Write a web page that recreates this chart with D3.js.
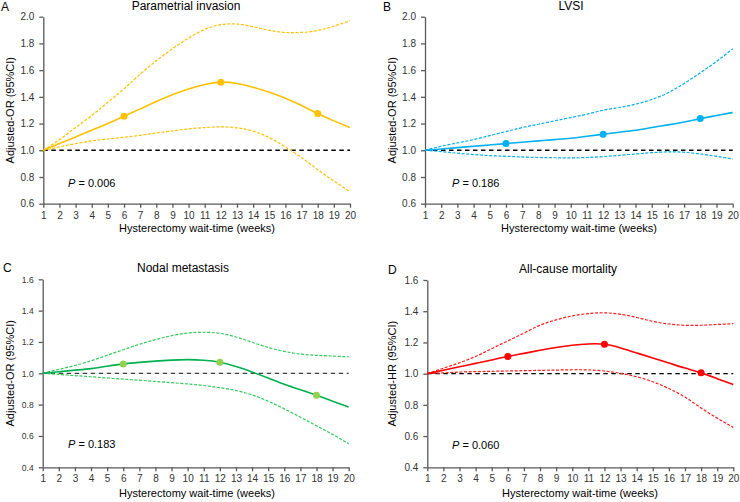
<!DOCTYPE html>
<html>
<head>
<meta charset="utf-8">
<script src="https://cdn.jsdelivr.net/npm/d3@7/dist/d3.min.js"></script>
<style>
  html, body { margin: 0; padding: 0; background: #fff; }
  svg { display: block; font-family: "Liberation Sans", Arial, sans-serif; }
</style>
</head>
<body>
<svg id="chart" width="740" height="502"></svg>
<script>
// ---------------- DATA ----------------
const weeks = [1,2,3,4,5,6,7,8,9,10,11,12,13,14,15,16,17,18,19,20];
const xTickLabels = weeks.map(String);
const markerWeeks = [6, 12, 18];

const panelLetters = ["A", "B", "C", "D"];
const panelTitles = ["Parametrial invasion", "LVSI", "Nodal metastasis", "All-cause mortality"];
const yAxisTitles = ["Adjusted-OR (95%CI)", "Adjusted-OR (95%CI)", "Adjusted-OR (95%CI)", "Adjusted-HR (95%CI)"];
const xAxisTitle = "Hysterectomy wait-time (weeks)";
const pValues = ["0.006", "0.186", "0.183", "0.060"];

const yTicksTop = [0.6, 0.8, 1.0, 1.2, 1.4, 1.6, 1.8, 2.0];
const yTicksBottom = [0.4, 0.6, 0.8, 1.0, 1.2, 1.4, 1.6];

// Panel A - Parametrial invasion
const aMain  = [1.00,1.05,1.10,1.15,1.20,1.255,1.31,1.365,1.415,1.458,1.492,1.51,1.50,1.472,1.435,1.39,1.335,1.275,1.22,1.17];
const aUpper = [1.00,1.08,1.17,1.26,1.36,1.46,1.57,1.67,1.76,1.84,1.905,1.94,1.945,1.925,1.898,1.882,1.882,1.897,1.93,1.97];
const aLower = [1.00,1.025,1.05,1.07,1.085,1.097,1.112,1.13,1.145,1.16,1.17,1.175,1.168,1.143,1.095,1.025,0.945,0.855,0.77,0.69];

// Panel B - LVSI
const bMain  = [1.00,1.01,1.02,1.03,1.04,1.05,1.06,1.07,1.08,1.09,1.105,1.12,1.135,1.15,1.17,1.19,1.212,1.237,1.26,1.283];
const bUpper = [1.00,1.03,1.055,1.08,1.11,1.14,1.17,1.195,1.22,1.245,1.27,1.30,1.32,1.345,1.38,1.43,1.50,1.58,1.665,1.76];
const bLower = [1.00,0.99,0.978,0.968,0.96,0.955,0.95,0.946,0.944,0.943,0.946,0.953,0.962,0.972,0.982,0.988,0.985,0.972,0.955,0.935];

// Panel C - Nodal metastasis
const cMain  = [1.00,1.01,1.02,1.03,1.045,1.06,1.07,1.078,1.084,1.087,1.083,1.07,1.043,1.008,0.97,0.93,0.895,0.86,0.822,0.785];
const cUpper = [1.00,1.025,1.05,1.08,1.115,1.15,1.185,1.215,1.24,1.257,1.262,1.255,1.232,1.198,1.165,1.14,1.123,1.115,1.11,1.105];
const cLower = [1.00,0.993,0.985,0.978,0.97,0.963,0.956,0.948,0.94,0.932,0.922,0.908,0.89,0.862,0.822,0.773,0.72,0.665,0.61,0.55];

// Panel D - All-cause mortality
const dMain  = [1.00,1.022,1.044,1.066,1.088,1.11,1.13,1.15,1.168,1.182,1.19,1.188,1.165,1.133,1.10,1.068,1.036,1.005,0.968,0.93];
const dUpper = [1.00,1.035,1.07,1.11,1.16,1.21,1.26,1.31,1.345,1.37,1.385,1.39,1.38,1.36,1.335,1.318,1.31,1.31,1.315,1.32];
const dLower = [1.00,1.005,1.01,1.013,1.015,1.017,1.019,1.021,1.023,1.025,1.024,1.017,1.002,0.98,0.948,0.905,0.85,0.78,0.715,0.655];

const mainSeries  = [aMain, bMain, cMain, dMain];
const upperSeries = [aUpper, bUpper, cUpper, dUpper];
const lowerSeries = [aLower, bLower, cLower, dLower];

// ---------------- LAYOUT / STYLE ----------------
const panels = [
  { x0: 43.3, x1: 350,   yTop: 16.7,  yBot: 203.7, domain: [0.6, 2.0], ticks: yTicksTop,
    titleX: 186, titleY: 10, letterX: 1, letterY: 11, yTitleX: 10, xTitleX: 197, xTitleY: 232,
    pX: 68, pY: 187, tickFont: 10, lineColor: "#FFC000", ciColor: "#FFC000", dotColor: "#FFC000", refColor: "#000" },
  { x0: 425,  x1: 732.7, yTop: 16.7,  yBot: 203.7, domain: [0.6, 2.0], ticks: yTicksTop,
    titleX: 571, titleY: 10, letterX: 383, letterY: 11, yTitleX: 392, xTitleX: 579, xTitleY: 232,
    pX: 452, pY: 187, tickFont: 10, lineColor: "#00B0F0", ciColor: "#00B0F0", dotColor: "#00B0F0", refColor: "#000" },
  { x0: 42.7, x1: 348.7, yTop: 279.3, yBot: 467.3, domain: [0.4, 1.6], ticks: yTicksBottom,
    titleX: 183, titleY: 272, letterX: 3, letterY: 272, yTitleX: 10, xTitleX: 197, xTitleY: 497,
    pX: 68, pY: 448, tickFont: 8.5, lineColor: "#00B050", ciColor: "#2ECC5A", dotColor: "#92D050", refColor: "#404040" },
  { x0: 427.3, x1: 733.3, yTop: 280,  yBot: 467.3, domain: [0.4, 1.6], ticks: yTicksBottom,
    titleX: 568, titleY: 273, letterX: 388, letterY: 274, yTitleX: 392, xTitleX: 580, xTitleY: 497,
    pX: 452, pY: 449, tickFont: 10, lineColor: "#FF0000", ciColor: "#FF1A1A", dotColor: "#FF0000", refColor: "#000" }
];

const svg = d3.select("#chart");
const axisColor = "#595959";
const textColor = "#000";

panels.forEach((p, i) => {
  const g = svg.append("g");
  const x = d3.scaleLinear().domain([1, 20]).range([p.x0, p.x1]);
  const y = d3.scaleLinear().domain(p.domain).range([p.yBot, p.yTop]);

  // Y axis
  const yAxis = d3.axisLeft(y).tickValues(p.ticks).tickFormat(d3.format(".1f")).tickSizeInner(4).tickSizeOuter(0).tickPadding(5);
  const gy = g.append("g").attr("transform", `translate(${p.x0},0)`).call(yAxis);
  gy.select(".domain").attr("stroke", axisColor).attr("stroke-width", 1.3);
  gy.selectAll(".tick line").attr("stroke", axisColor).attr("stroke-width", 1.3);
  gy.selectAll(".tick text").attr("fill", "#333").attr("font-size", p.tickFont)
    .attr("font-family", "Liberation Sans, Arial, sans-serif");

  // X axis
  const xAxis = d3.axisBottom(x).tickValues(weeks).tickFormat((d, k) => xTickLabels[k]).tickSizeInner(4).tickSizeOuter(0).tickPadding(4);
  const gx = g.append("g").attr("transform", `translate(0,${p.yBot})`).call(xAxis);
  gx.select(".domain").attr("stroke", axisColor).attr("stroke-width", 1.3);
  gx.selectAll(".tick line").attr("stroke", axisColor).attr("stroke-width", 1.3);
  gx.selectAll(".tick text").attr("fill", "#333").attr("font-size", 10)
    .attr("font-family", "Liberation Sans, Arial, sans-serif");

  // Reference line at 1.0
  g.append("line")
    .attr("x1", x(1)).attr("x2", x(20))
    .attr("y1", y(1)).attr("y2", y(1))
    .attr("stroke", p.refColor).attr("stroke-width", 1.3)
    .attr("stroke-dasharray", "4.5,3.5");

  const line = d3.line()
    .x((d, k) => x(weeks[k]))
    .y(d => y(d))
    .curve(d3.curveNatural);

  // CI lines
  [upperSeries[i], lowerSeries[i]].forEach(s => {
    g.append("path").datum(s).attr("d", line)
      .attr("fill", "none").attr("stroke", p.ciColor).attr("stroke-width", 1.2)
      .attr("stroke-dasharray", "3,1.6");
  });

  // main line
  g.append("path").datum(mainSeries[i]).attr("d", line)
    .attr("fill", "none").attr("stroke", p.lineColor).attr("stroke-width", 1.6);

  // markers
  g.selectAll("circle.m").data(markerWeeks).enter().append("circle")
    .attr("class", "m")
    .attr("cx", d => x(d))
    .attr("cy", d => y(mainSeries[i][weeks.indexOf(d)]))
    .attr("r", 3.5)
    .attr("fill", p.dotColor);

  // Panel letter
  g.append("text").attr("x", p.letterX).attr("y", p.letterY)
    .attr("font-size", 12).attr("fill", textColor).text(panelLetters[i]);

  // Title
  g.append("text").attr("x", p.titleX).attr("y", p.titleY)
    .attr("text-anchor", "middle").attr("font-size", 12).attr("fill", textColor).text(panelTitles[i]);

  // Y axis title
  g.append("text")
    .attr("transform", `translate(${p.yTitleX + 4},${(p.yTop + p.yBot) / 2}) rotate(-90)`)
    .attr("text-anchor", "middle").attr("font-size", 11).attr("fill", textColor)
    .text(yAxisTitles[i]);

  // X axis title
  g.append("text").attr("x", p.xTitleX).attr("y", p.xTitleY)
    .attr("text-anchor", "middle").attr("font-size", 11).attr("fill", textColor).text(xAxisTitle);

  // P value
  const pt = g.append("text").attr("x", p.pX).attr("y", p.pY)
    .attr("font-size", 11).attr("fill", textColor);
  pt.append("tspan").attr("font-style", "italic").text("P");
  pt.append("tspan").text(" = " + pValues[i]);
});
</script>
</body>
</html>
